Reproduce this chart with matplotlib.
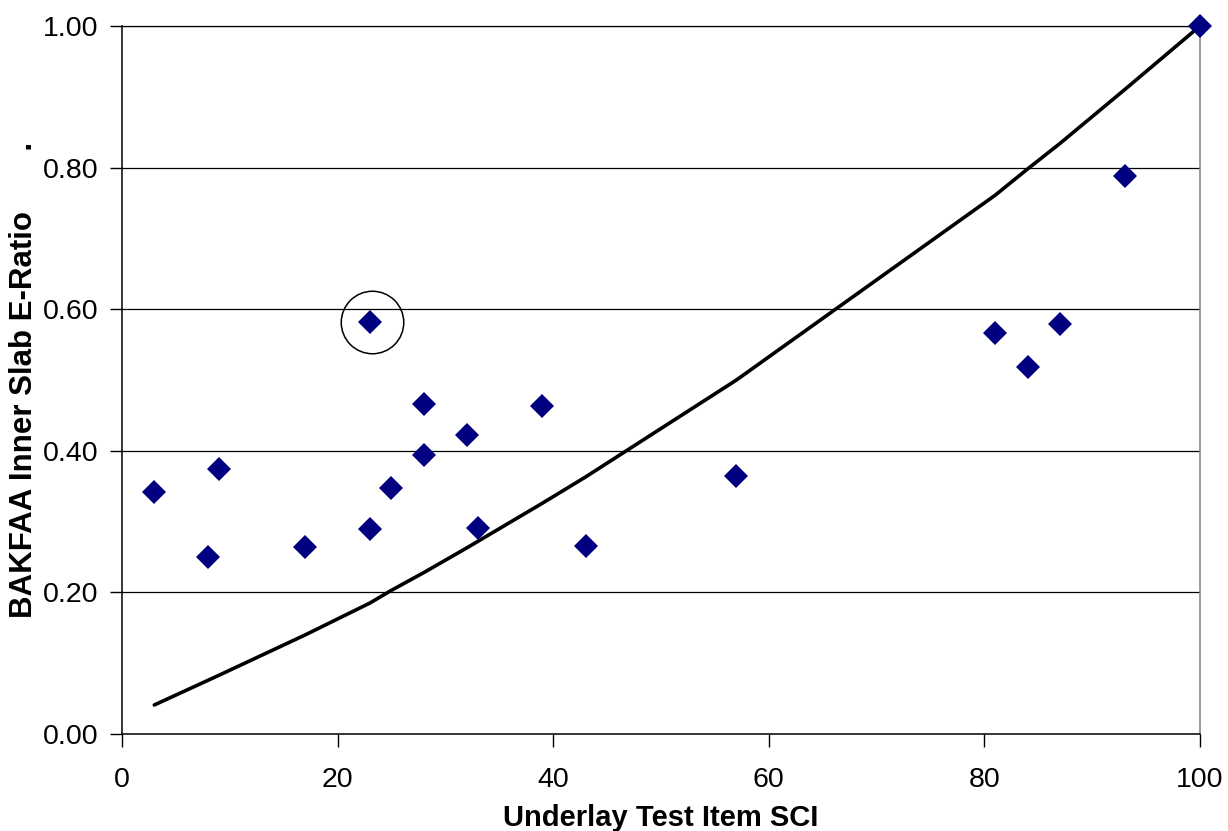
import matplotlib
matplotlib.use("Agg")
import matplotlib.pyplot as plt
from matplotlib.ticker import FormatStrFormatter

plt.rcParams['font.family'] = ['Liberation Sans', 'DejaVu Sans']

# Measured E-ratios for each underlay test item
sci = [3, 8, 9, 17, 23, 23, 25, 28, 28, 32, 33, 39, 43, 57, 81, 84, 87, 93, 100]
e_ratio = [0.342, 0.250, 0.375, 0.264, 0.290, 0.582, 0.348, 0.394, 0.466,
           0.422, 0.291, 0.463, 0.266, 0.364, 0.567, 0.518, 0.579, 0.788, 1.000]

# Reference relationship curve
curve_sci = [3, 8, 9, 17, 23, 25, 28, 32, 33, 39, 43, 57, 81, 84, 87, 93, 100]
curve_ratio = [0.041, 0.076, 0.083, 0.140, 0.185, 0.203, 0.228, 0.263, 0.272,
               0.326, 0.363, 0.500, 0.761, 0.798, 0.834, 0.910, 1.000]

# Outlier highlighted with a ring
outlier_sci = [23]
outlier_ratio = [0.582]

x_ticks = [0, 20, 40, 60, 80, 100]
y_ticks = [0.0, 0.2, 0.4, 0.6, 0.8, 1.0]

fig = plt.figure(figsize=(12.28, 8.31), dpi=100)
ax = fig.add_axes([0.0993, 0.1167, 0.8779, 0.852])

ax.set_xlim(0, 100)
ax.set_ylim(0, 1.0)

for yv in y_ticks[1:]:
    ax.axhline(yv, color='black', lw=0.9, zorder=1)

ax.plot(curve_sci, curve_ratio, color='black', lw=2.6, zorder=2,
        solid_joinstyle='round', solid_capstyle='round')
ax.plot(sci, e_ratio, linestyle='none', marker='D', markersize=12.5,
        color='#000080', markeredgewidth=0, zorder=3, clip_on=False)
ax.plot([v + 0.2 for v in outlier_sci], outlier_ratio, linestyle='none',
        marker='o', markersize=45, markerfacecolor='none',
        markeredgecolor='black', markeredgewidth=1.1, zorder=4)

ax.set_xticks(x_ticks)
ax.set_yticks(y_ticks)
ax.yaxis.set_major_formatter(FormatStrFormatter('%.2f'))
ax.tick_params(axis='both', direction='out', length=9, width=1,
               labelsize=20.5, colors='black', labelcolor='black')
ax.tick_params(axis='x', pad=15)
ax.tick_params(axis='y', pad=8)
for t in ax.xaxis.get_ticklines() + ax.yaxis.get_ticklines():
    t.set_color('#555555')

for side in ('left', 'bottom'):
    ax.spines[side].set_color('black')
    ax.spines[side].set_linewidth(1.1)
ax.spines['right'].set_color('#808080')
ax.spines['right'].set_linewidth(1.1)
ax.spines['top'].set_color('black')
ax.spines['top'].set_linewidth(0.9)

ax.set_xlabel('Underlay Test Item SCI', fontsize=21, fontweight='bold',
              labelpad=8)
ax.set_ylabel('BAKFAA Inner Slab E-Ratio       .', fontsize=22.5,
              fontweight='bold', labelpad=3)

fig.savefig('out.png', dpi=100)
